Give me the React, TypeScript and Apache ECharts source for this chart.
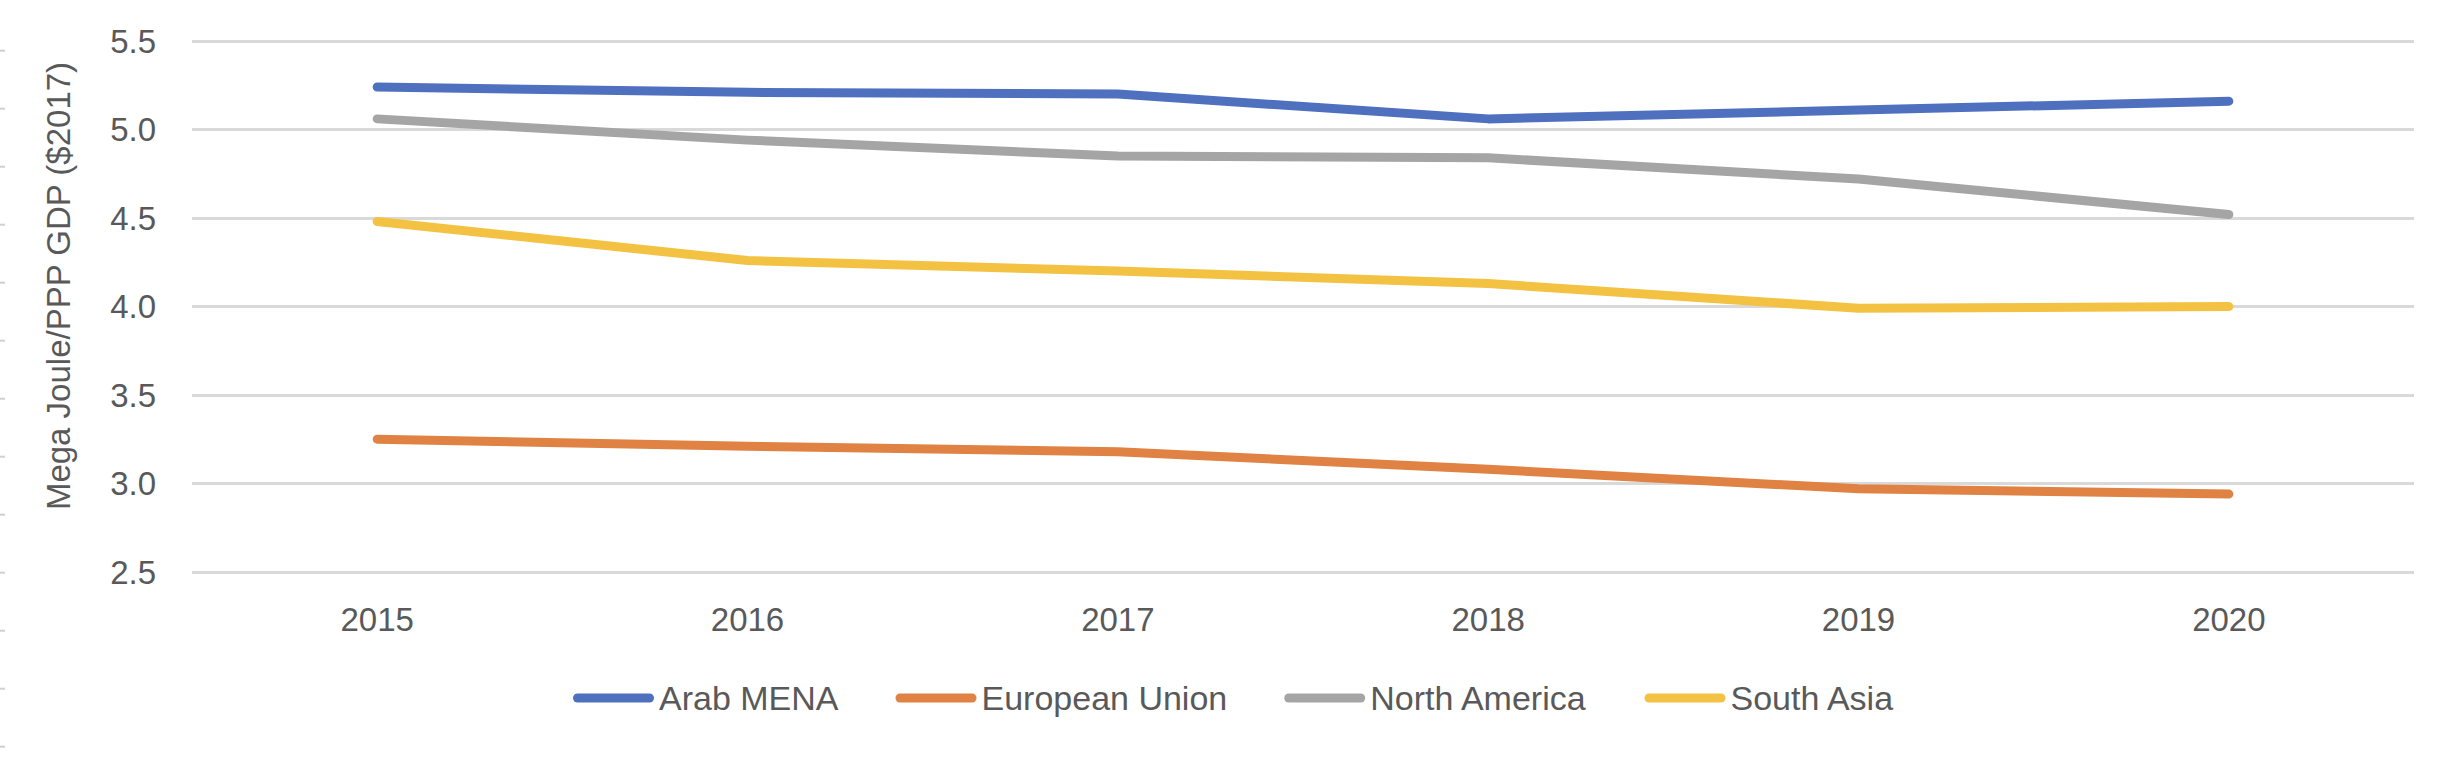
import React, { useEffect, useRef } from "react";
import * as echarts from "echarts";

// Energy intensity by region, 2015–2020
const years = ["2015", "2016", "2017", "2018", "2019", "2020"];
const arabMena = [5.24, 5.21, 5.2, 5.06, 5.11, 5.16];
const europeanUnion = [3.25, 3.21, 3.18, 3.08, 2.97, 2.94];
const northAmerica = [5.06, 4.94, 4.85, 4.84, 4.72, 4.52];
const southAsia = [4.48, 4.26, 4.2, 4.13, 3.99, 4.0];

const seriesNames = ["Arab MENA", "European Union", "North America", "South Asia"];
const seriesColors = ["#4E70BE", "#DF8243", "#A5A5A5", "#F4C242"];
const seriesData = [arabMena, europeanUnion, northAmerica, southAsia];

const yAxisTitle = "Mega Joule/PPP GDP ($2017)";

const FONT = "'Liberation Sans', Arial, sans-serif";
const TEXT_COLOR = "#595959";

export default function App() {
  const ref = useRef<HTMLDivElement>(null);

  useEffect(() => {
    if (!ref.current) return;
    const chart = echarts.init(ref.current, undefined, { renderer: "svg" });

    // faint ruler marks along the left edge
    const edgeMarks: any[] = [];
    for (let k = 0; k < 13; k++) {
      const y = 50.7 + 58 * k;
      edgeMarks.push({
        type: "line",
        shape: { x1: 0, y1: y, x2: 5, y2: y },
        style: { stroke: "#D0D0D0", lineWidth: 2 },
        silent: true,
      });
    }

    chart.setOption({
      animation: false,
      backgroundColor: "#ffffff",
      textStyle: { fontFamily: FONT },
      grid: { left: 192, right: 34, top: 41, bottom: 190, containLabel: false },
      xAxis: {
        type: "category",
        data: years,
        boundaryGap: true,
        axisLine: { show: false },
        axisTick: { show: false },
        axisLabel: {
          color: TEXT_COLOR,
          fontSize: 33,
          fontFamily: FONT,
          margin: 31,
        },
        splitLine: { show: false },
      },
      yAxis: {
        type: "value",
        min: 2.5,
        max: 5.5,
        interval: 0.5,
        axisLine: { show: false },
        axisTick: { show: false },
        axisLabel: {
          color: TEXT_COLOR,
          fontSize: 33,
          fontFamily: FONT,
          margin: 36,
          formatter: (v: number) => v.toFixed(1),
        },
        splitLine: { lineStyle: { color: "#D9D9D9", width: 3 } },
      },
      legend: {
        data: seriesNames,
        left: 573,
        top: 681,
        padding: 0,
        itemWidth: 81,
        itemHeight: 9,
        itemGap: 57,
        icon: "path://M4.5,0H76.5A4.5,4.5,0,0,1,76.5,9H4.5A4.5,4.5,0,0,1,4.5,0Z",
        textStyle: {
          color: TEXT_COLOR,
          fontSize: 34,
          fontFamily: FONT,
          lineHeight: 34,
        },
      },
      graphic: [
        {
          type: "text",
          x: 58,
          y: 286,
          rotation: Math.PI / 2,
          style: {
            text: yAxisTitle,
            fill: TEXT_COLOR,
            font: `33px ${FONT}`,
            align: "center",
            verticalAlign: "middle",
          },
          silent: true,
        },
        ...edgeMarks,
      ],
      series: seriesNames.map((name, i) => ({
        name,
        type: "line",
        data: seriesData[i],
        symbol: "none",
        color: seriesColors[i],
        lineStyle: { width: 9, color: seriesColors[i], cap: "round", join: "round" },
        itemStyle: { color: seriesColors[i] },
      })),
    });

    return () => chart.dispose();
  }, []);

  return (
    <div
      ref={ref}
      style={{ position: "fixed", left: 0, top: 0, width: 2448, height: 762 }}
    />
  );
}
